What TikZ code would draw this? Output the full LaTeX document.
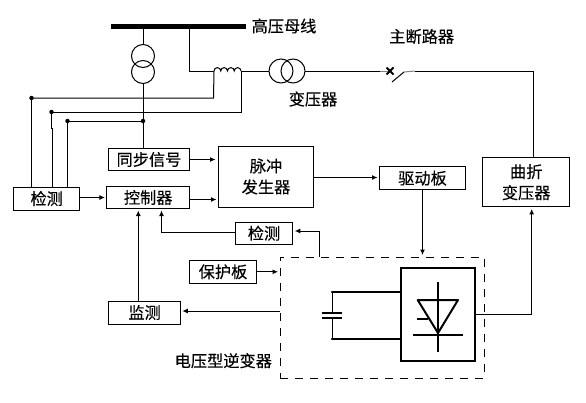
\documentclass[tikz,border=0pt]{standalone}
\usepackage{fontspec}
\setmainfont[FakeBold=0.25]{Noto Sans CJK SC}
\usetikzlibrary{arrows.meta}
\tikzset{
  wire/.style={line width=1pt,line join=miter},
  arr/.style={wire,-{Latex[length=5.5pt,width=5pt]},shorten >=1.5pt},
  blk/.style={draw,line width=1pt,inner sep=0pt,align=center,font=\fontsize{16.2}{21}\selectfont},
  lbl/.style={inner sep=0pt,font=\fontsize{16.2}{21}\selectfont},
  dotm/.style={circle,fill=black,inner sep=0pt,minimum size=4.5pt},
  heavy/.style={line width=2.2pt,line cap=round,line join=round},
}
\begin{document}
\begin{tikzpicture}[x=1pt,y=-1pt]
\useasboundingbox (0,0) rectangle (586,402);
% blocks
\node[blk,minimum width=81pt,minimum height=22pt] (sync) at (149,159.5) {同步信号};
\node[blk,minimum width=82.5pt,minimum height=22pt] (ctrl) at (148.2,197.5) {控制器};
\node[blk,minimum width=66.5pt,minimum height=23pt] (det1) at (46.7,198.5) {检测};
\node[blk,minimum width=95pt,minimum height=61pt] (pulse) at (266,176.5) {脉冲\\发生器};
\node[blk,minimum width=86pt,minimum height=22.5pt] (drive) at (422.5,178.2) {驱动板};
\node[blk,minimum width=86.5pt,minimum height=49.5pt] (zig) at (526.2,182.2) {曲折\\变压器};
\node[blk,minimum width=57.5pt,minimum height=22pt] (det2) at (264,233.2) {检测};
\node[blk,minimum width=67.5pt,minimum height=23pt] (prot) at (223,271.8) {保护板};
\node[blk,minimum width=71.5pt,minimum height=23pt] (mon) at (144.6,312.5) {监测};
\node[draw,line width=1pt,dash pattern=on 8pt off 7pt,minimum width=204pt,minimum height=121pt,inner sep=0pt] (inv) at (382,317.5) {};
\node[draw,line width=2.4pt,minimum width=74pt,minimum height=93pt,inner sep=0pt] (igbt) at (438,314.2) {};
% labels
\node[lbl] (tbus) at (284,26) {高压母线};
\node[lbl] (tbrk) at (421.7,36.5) {主断路器};
\node[lbl] (ttr) at (313,99) {变压器};
\node[lbl] (tinv) at (223.3,360.7) {电压型逆变器};
% bus
\node[fill=black,minimum width=135pt,minimum height=5pt,inner sep=0pt] (bus) at (178.5,26) {};
% PT
\coordinate (pt1) at (143,56);
\coordinate (pt2) at (143,72);
\draw[wire] (pt1) circle[radius=11.5];
\draw[wire] (pt2) circle[radius=11.5];
\coordinate (ptTop) at (143,44.5);
\coordinate (ptBot) at (143,83.5);
\draw[wire] (ptTop) -- (ptTop |- bus.south);
\node[dotm] (d0) at (143,121) {};
\draw[wire] (ptBot) -- (ptBot |- sync.north);
% line to coil
\coordinate (coilL) at (214,71);
\coordinate (coilR) at (241,71);
\coordinate (b1) at (189.5,71);
\draw[wire] (b1 |- bus.south) -- (b1) -- (coilL);
\draw[wire] (coilL) arc[start angle=180,end angle=360,radius=3.375]
  arc[start angle=180,end angle=360,radius=3.375]
  arc[start angle=180,end angle=360,radius=3.375]
  arc[start angle=180,end angle=360,radius=3.375];
% main transformer
\coordinate (t1) at (281,71);
\coordinate (t2) at (293,71);
\draw[wire] (t1) circle[radius=12];
\draw[wire] (t2) circle[radius=12];
\coordinate (tL) at (269,71);
\coordinate (tR) at (305,71);
\draw[wire] (coilR) -- (tL);
% breaker
\coordinate (brkL) at (380,71);
\coordinate (brkX) at (390,71);
\coordinate (brkR) at (415,71);
\coordinate (brkS) at (404,72);
\coordinate (brkE) at (392,82);
\draw[wire] (tR) -- (brkL);
\draw[wire,gray] (brkL) -- (brkX);
\draw[line width=1.8pt] ([shift={(-3.5,-3.5)}]brkX) -- ([shift={(3.5,3.5)}]brkX) ([shift={(-3.5,3.5)}]brkX) -- ([shift={(3.5,-3.5)}]brkX);
\draw[wire] (brkE) -- (brkS);
\draw[wire,gray] (brkS) -- (brkR);
\coordinate (zigT) at (533.5,71);
\draw[wire] (brkR) -- (zigT) -- (zigT |- zig.north);
% measurement lines
\node[dotm] (d1) at (31.5,98) {};
\node[dotm] (d2) at (51.5,112) {};
\node[dotm] (d3) at (67.5,121) {};
\draw[wire] (d1.center) -- (213.5,98) -- (coilL);
\draw[wire] (d2.center) -- (241,112) -- (coilR);
\draw[wire] (d3.center) -- (d0.center);
\draw[wire] (d1.center) -- (d1.center |- det1.north);
\draw[wire] (d2.center) -- (51.5,128) -- (52.5,128) -- (52.5,187);
\draw[wire] (d3.center) -- (d3.center |- det1.north);
% block arrows
\draw[arr] (sync.east) -- ++(27,0) coordinate (a1);
\draw[arr] (ctrl.east |- 0,199.5) -- (pulse.west |- 0,199.5);
\draw[arr] (det1.east |- 0,197.5) -- (ctrl.west |- 0,197.5);
\draw[arr] (pulse.east |- 0,177.5) -- (drive.west |- 0,177.5);
\draw[arr] (drive.south) -- (drive.south |- inv.north);
\coordinate (o1) at (531.7,314);
\draw[arr] (igbt.east |- o1) -- (o1) -- (o1 |- zig.south);
\coordinate (d2in) at (319.5,231);
\draw[arr] (d2in |- inv.north) -- (d2in) -- (det2.east |- d2in);
\coordinate (c1) at (161.5,232);
\draw[arr] (det2.west |- c1) -- (c1) -- (c1 |- ctrl.south);
\draw[arr] (mon.north -| 138.3,0) -- (ctrl.south -| 138.3,0);
\draw[arr] (prot.east) -- (inv.west |- prot.east);
\draw[arr] (inv.west |- 0,311) -- (mon.east |- 0,311);
% capacitor
\coordinate (capT) at (332,291.7);
\coordinate (capB) at (332,339);
\draw[heavy] (capT) -- (igbt.west |- capT);
\draw[heavy] (capB) -- (igbt.west |- capB);
\draw[wire] (capT) -- (332,313);
\draw[wire] (capB) -- (332,317.7);
\draw[line width=1.8pt] (322,313) -- (341.5,313) (322,317.7) -- (341.5,317.7);
% thyristor symbol
\draw[line width=1.9pt] (438,282) -- (438,352);
\draw[line width=2pt,line join=round] (417.7,300) -- (458,300) -- (438,333) -- cycle;
\draw[line width=1.8pt] (413,334.7) -- (463,334.7);
\draw[line width=1.8pt] (417,318.7) -- (428,318.7);
\end{tikzpicture}
\end{document}
